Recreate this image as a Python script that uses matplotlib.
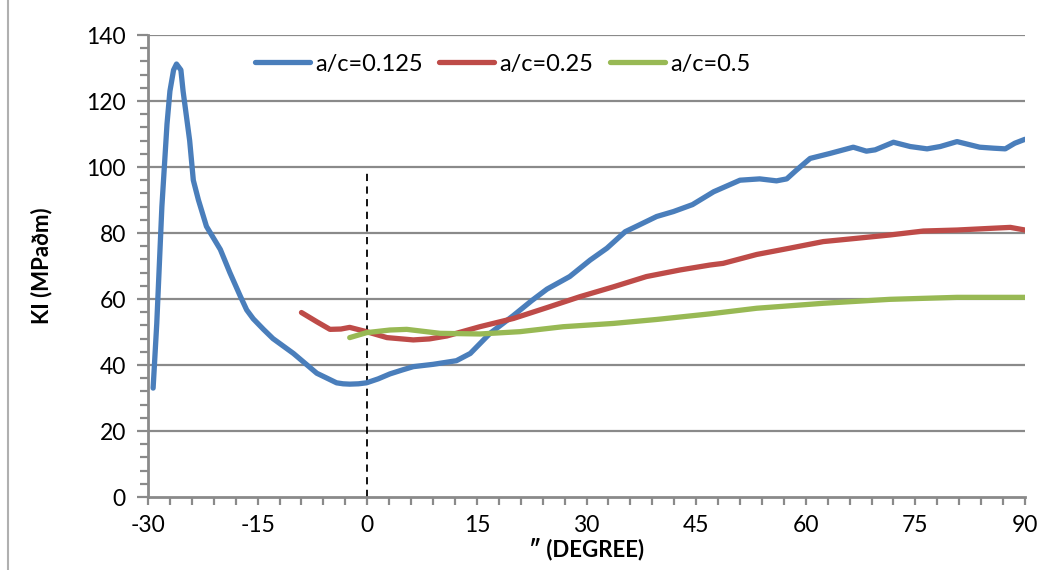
import matplotlib
matplotlib.use("Agg")
import matplotlib.pyplot as plt
from matplotlib.ticker import MultipleLocator

# ---- data ----
blue_x = [-29.3, -28.8, -28.1, -27.4, -27.0, -26.5, -26.1, -25.5, -25.2, -24.3, -23.8,
          -23.1, -22.0, -20.1, -18.8, -17.4, -16.5, -15.6, -14.2, -12.9, -10.1, -8.5,
          -6.9, -5.5, -4.2, -3.3, -2.4, -1.2, -0.1, 1.5, 3.1, 4.8, 6.3, 9.0, 12.2, 14.1,
          16.8, 20.0, 22.5, 24.6, 27.7, 30.5, 32.8, 35.3, 36.9, 39.6, 41.9, 44.5, 47.4,
          51.0, 53.7, 56.0, 57.4, 58.7, 60.6, 63.3, 66.5, 68.3, 69.5, 72.0, 74.3, 76.6,
          78.4, 80.7, 83.8, 85.7, 87.3, 88.6, 90.0]
blue_y = [33, 52.6, 88, 113, 123, 129.4, 131.2, 129.4, 123, 108, 96,
          90, 82, 75, 68, 61, 56.7, 54, 50.8, 48, 43.5, 40.5,
          37.5, 36, 34.6, 34.3, 34.2, 34.3, 34.6, 35.8, 37.3, 38.5, 39.5, 40.2, 41.3, 43.5,
          49.6, 55, 59.5, 63, 66.8, 71.8, 75.4, 80.4, 82.1, 85, 86.5, 88.6, 92.5,
          96, 96.4, 95.8, 96.4, 99, 102.6, 104.1, 106, 104.8, 105.2, 107.5, 106.2, 105.5,
          106.2, 107.7, 106, 105.7, 105.5, 107.2, 108.4]

red_x = [-9.0, -6.9, -5.1, -3.6, -2.4, -0.1, 2.7, 6.3, 8.5, 10.9, 15.4, 20.0, 24.6, 29.1,
         33.7, 38.2, 42.8, 46.9, 48.7, 53.3, 57.8, 62.4, 67.0, 71.5, 76.1, 80.7, 85.2,
         88.0, 90.0]
red_y = [55.9, 53.1, 50.8, 50.9, 51.4, 50.1, 48.3, 47.6, 47.9, 48.8, 51.6, 54.1, 57.4, 60.7,
         63.7, 66.8, 68.8, 70.3, 70.8, 73.5, 75.4, 77.4, 78.4, 79.4, 80.6, 80.9, 81.4,
         81.7, 80.9]

green_x = [-2.4, -0.1, 3.1, 5.4, 9.95, 15.4, 20.9, 26.8, 33.7, 39.6, 46.9, 53.3, 62.4,
           71.5, 80.7, 90.0]
green_y = [48.3, 49.8, 50.6, 50.8, 49.6, 49.4, 50.1, 51.6, 52.6, 53.8, 55.5, 57.2, 58.7,
           59.9, 60.5, 60.5]

x_ticks = [-30, -15, 0, 15, 30, 45, 60, 75, 90]
y_ticks = [0, 20, 40, 60, 80, 100, 120, 140]
labels = ["a/c=0.125", "a/c=0.25", "a/c=0.5"]
dash_x = [0, 0]
dash_y = [0, 99]

plt.rcParams['font.family'] = ['Lato', 'DejaVu Sans']
plt.rcParams['axes.unicode_minus'] = False

fig = plt.figure(figsize=(10.54, 5.70), dpi=100)
ax = fig.add_axes([148/1054, 1 - 497/570, (1025-148)/1054, (497-35)/570])

gray = '#8a8a8a'
for yv in y_ticks[1:]:
    ax.axhline(yv, color=gray, lw=1.6, zorder=1)

ax.plot(dash_x, dash_y, color='black', lw=1.3, ls=(0, (4, 3)), zorder=2)

style = dict(lw=3.8, solid_capstyle='round', solid_joinstyle='round')
ax.plot(blue_x, blue_y, color='#4a7ebb', label=labels[0], zorder=3, **style)
ax.plot(red_x, red_y, color='#be4b48', label=labels[1], zorder=3, **style)
ax.plot(green_x, green_y, color='#98b954', label=labels[2], zorder=4, **style)

ax.set_xlim(-30, 90)
ax.set_ylim(0, 140)
ax.set_xticks(x_ticks)
ax.set_yticks(y_ticks)
ax.xaxis.set_minor_locator(MultipleLocator(3))
ax.yaxis.set_minor_locator(MultipleLocator(4))
ax.tick_params(axis='both', which='both', direction='out', color=gray, width=1.6,
               labelsize=16.5)
ax.tick_params(axis='y', which='major', length=8, pad=8)
ax.tick_params(axis='y', which='minor', length=6)
ax.tick_params(axis='x', which='major', length=6, pad=7)
ax.tick_params(axis='x', which='minor', length=6)

for s in ['top', 'right']:
    ax.spines[s].set_visible(False)
for s in ['left', 'bottom']:
    ax.spines[s].set_color(gray)
    ax.spines[s].set_linewidth(2)

ax.set_ylabel("KI (MPaðm)", fontsize=16, fontweight='bold', labelpad=24)
ax.set_xlabel("″ (DEGREE)", fontsize=16, fontweight='bold', labelpad=1)

leg = ax.legend(loc='center', ncol=3, frameon=False, fontsize=17,
                bbox_to_anchor=(0.404, 0.937), handlelength=2.35, handletextpad=0.2,
                columnspacing=0.7)

# chart area border line on the left
fig.add_artist(plt.Line2D([8/1054, 8/1054], [0, 1], color='#b0b0b0', lw=1.5))

fig.savefig("out.png", dpi=100)
